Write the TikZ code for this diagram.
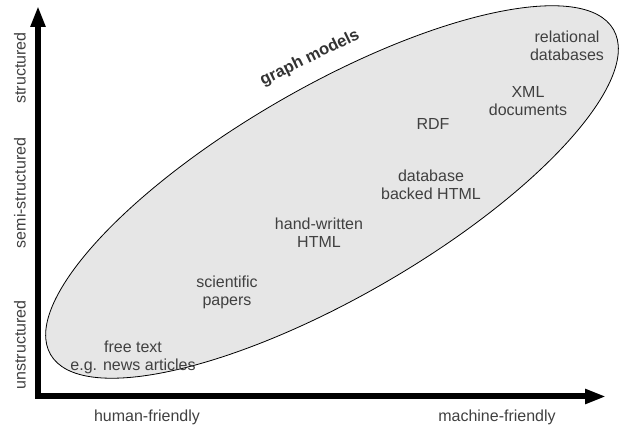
\documentclass[tikz,border=0pt]{standalone}
\usepackage{fontspec}
\usepackage{tikz}
\usetikzlibrary{arrows.meta,shapes.geometric,positioning}
\newfontfamily\labelfont{Liberation Sans}
\definecolor{labelgray}{HTML}{404040}
\definecolor{blobgray}{HTML}{E6E6E6}
\tikzset{
  kind/.style={font=\labelfont\fontsize{16}{18}\selectfont, text=labelgray, align=center, inner sep=0pt},
  axislabel/.style={kind},
  axisline/.style={line width=6pt, line join=miter, {Triangle[length=21pt,width=14pt]}-{Triangle[length=21pt,width=14pt]}},
  blob/.style={ellipse, draw=black, line width=0.8pt, fill=blobgray, inner sep=0pt, minimum width=650pt, minimum height=210pt}
}

\begin{document}
\begin{tikzpicture}[x=1pt, y=1pt]
    \useasboundingbox (0,0) rectangle (622,430);

    % the family of graph models
    \node[blob, rotate=30] (graphs) at (332,238) {};
    \node[kind, font=\labelfont\bfseries\fontsize{16.5}{18}\selectfont, text=black!80, rotate=26] (graphname) at (310,372) {graph models};

    % axes
    \coordinate (origin) at (38,33.5);
    \coordinate (ytop) at (38,424);
    \coordinate (xend) at (606,33.5);
    \draw[axisline] (ytop) -- (origin) -- (xend);

    \node[axislabel] (human) at (147,13) {human-friendly};
    \node[axislabel] (machine) at (497,13) {machine-friendly};
    \node[axislabel, rotate=90] (unstruct) at (20,85) {unstructured};
    \node[axislabel, rotate=90] (semistruct) at (20,237) {semi-structured};
    \node[axislabel, rotate=90] (struct) at (20,362) {structured};

    % kinds of data
    \node[kind] (freetext) at (133,73) {free text\\e.g. news articles};
    \node[kind] (papers) at (227,138) {scientific\\papers};
    \node[kind] (handhtml) at (319,197) {hand-written\\HTML};
    \node[kind] (dbhtml) at (431,245) {database\\backed HTML};
    \node[kind] (rdf) at (433,306) {RDF};
    \node[kind] (xmldocs) at (528,329) {XML\\documents};
    \node[kind] (reldb) at (567,384) {relational\\databases};
\end{tikzpicture}
\end{document}
